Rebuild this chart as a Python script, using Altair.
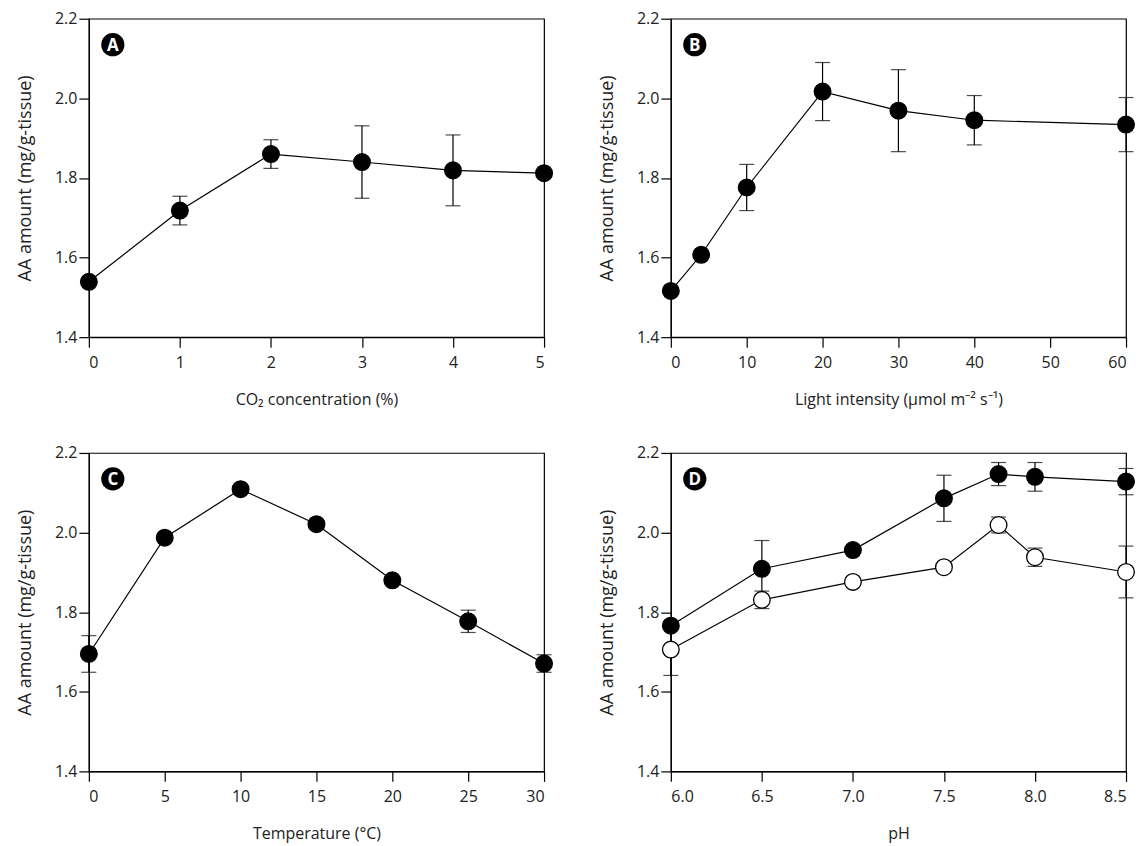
import altair as alt
import pandas as pd

# ---- data ----
# Panel A: CO2 concentration
a_x = [0, 1, 2, 3, 4, 5]
a_y = [1.539, 1.718, 1.860, 1.840, 1.819, 1.812]
a_err = [0.0, 0.036, 0.036, 0.091, 0.089, 0.0]

# Panel B: light intensity
b_x = [0, 4, 10, 20, 30, 40, 60]
b_y = [1.516, 1.607, 1.776, 2.017, 1.969, 1.945, 1.934]
b_err = [0.0, 0.0, 0.058, 0.073, 0.103, 0.062, 0.068]

# Panel C: temperature
c_x = [0, 5, 10, 15, 20, 25, 30]
c_y = [1.695, 1.987, 2.109, 2.021, 1.880, 1.777, 1.671]
c_err = [0.046, 0.0, 0.0, 0.0, 0.0, 0.028, 0.022]

# Panel D: pH, two series
d_x = [6.0, 6.5, 7.0, 7.5, 7.8, 8.0, 8.5]
d_filled_y = [1.766, 1.909, 1.956, 2.086, 2.147, 2.140, 2.128]
d_filled_err = [0.0, 0.071, 0.0, 0.058, 0.029, 0.036, 0.033]
d_open_y = [1.706, 1.831, 1.876, 1.913, 2.019, 1.938, 1.901]
d_open_err = [0.065, 0.022, 0.0, 0.0, 0.02, 0.023, 0.065]

y_ticks = [1.4, 1.6, 1.8, 2.0, 2.2]
panel_labels = ["A", "B", "C", "D"]
y_title = "AA amount (mg/g-tissue)"

FONT = "Open Sans"
W, H = 456, 319


def frame(xs, ys, errs, series):
    df = pd.DataFrame({"x": xs, "y": ys, "err": errs, "series": series})
    df["lo"] = df["y"] - df["err"]
    df["hi"] = df["y"] + df["err"]
    return df


def panel(df, label, xtitle, xdomain, xticks, xfmt):
    xenc = alt.X("x:Q", scale=alt.Scale(domain=xdomain, nice=False, zero=False),
                 axis=alt.Axis(values=xticks, format=xfmt, title=xtitle))
    yenc = alt.Y("y:Q", scale=alt.Scale(domain=[1.4, 2.2], nice=False, zero=False),
                 axis=alt.Axis(values=y_ticks, format=".1f", title=y_title))
    base = alt.Chart(df).encode(x=xenc)
    line = base.mark_line(color="black", strokeWidth=1.2).encode(y=yenc, detail="series:N")
    errdf = base.transform_filter("datum.err > 0")
    rule = errdf.mark_rule(color="black", strokeWidth=1.2).encode(y="lo:Q", y2="hi:Q")
    cap_lo = errdf.mark_tick(color="black", orient="horizontal", size=15, thickness=1.2).encode(y="lo:Q")
    cap_hi = errdf.mark_tick(color="black", orient="horizontal", size=15, thickness=1.2).encode(y="hi:Q")
    pts = base.mark_point(filled=False, size=280, stroke="black", strokeWidth=1.3, opacity=1).encode(
        y="y:Q",
        fill=alt.Fill("series:N", scale=alt.Scale(domain=["filled", "open"], range=["black", "white"]), legend=None),
    )
    lab_df = pd.DataFrame({"label": [label]})
    badge = alt.Chart(lab_df).mark_point(filled=True, color="black", size=540, opacity=1).encode(
        x=alt.value(24), y=alt.value(26))
    txt = alt.Chart(lab_df).mark_text(color="white", font=FONT, fontWeight="bold", fontSize=17,
                                      baseline="middle", align="center").encode(
        x=alt.value(24), y=alt.value(27), text="label:N")
    return alt.layer(line, rule, cap_lo, cap_hi, pts, badge, txt).properties(width=W, height=H)


dfA = frame(a_x, a_y, a_err, ["filled"] * len(a_x))
dfB = frame(b_x, b_y, b_err, ["filled"] * len(b_x))
dfC = frame(c_x, c_y, c_err, ["filled"] * len(c_x))
dfD = pd.concat([frame(d_x, d_filled_y, d_filled_err, ["filled"] * len(d_x)),
                 frame(d_x, d_open_y, d_open_err, ["open"] * len(d_x))], ignore_index=True)

pA = panel(dfA, panel_labels[0], "CO₂ concentration (%)", [0, 5], [0, 1, 2, 3, 4, 5], "d")
pB = panel(dfB, panel_labels[1], "Light intensity (μmol m⁻² s⁻¹)", [0, 60], [0, 10, 20, 30, 40, 50, 60], "d")
pC = panel(dfC, panel_labels[2], "Temperature (°C)", [0, 30], [0, 5, 10, 15, 20, 25, 30], "d")
pD = panel(dfD, panel_labels[3], "pH", [6.0, 8.5], [6.0, 6.5, 7.0, 7.5, 8.0, 8.5], ".1f")

top = alt.hconcat(pA, pB, spacing=41)
bottom = alt.hconcat(pC, pD, spacing=41)
chart = alt.vconcat(top, bottom, spacing=36).properties(
    padding={"left": 7, "top": 1, "right": 0, "bottom": 0}
).configure_view(stroke="black", strokeWidth=1.2).configure_axis(
    grid=False, domainColor="black", tickColor="black", tickSize=10, tickWidth=1.2, domainWidth=1.2,
    labelFont=FONT, titleFont=FONT, labelFontSize=16, titleFontSize=16,
    labelColor="#222", titleColor="#222", titleFontWeight="normal", labelPadding=2,
).configure_axisY(titlePadding=20, titleFontSize=18).configure_axisX(titlePadding=21, labelPadding=7)

chart.save("out.html", embed_options={"renderer": "svg", "actions": False})
